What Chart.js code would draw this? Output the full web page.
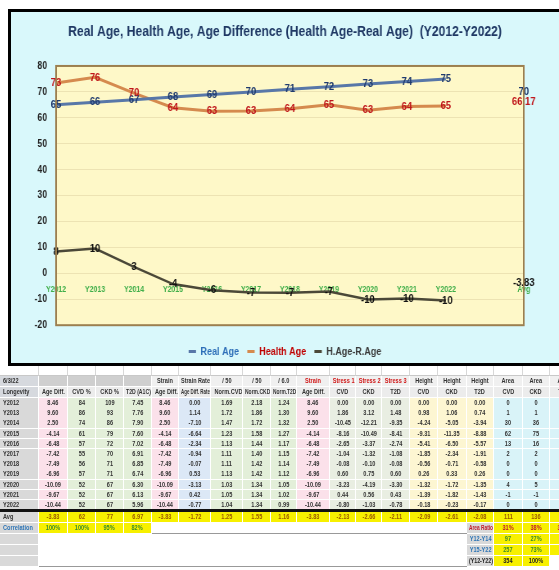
<!DOCTYPE html>
<html>
<head>
<meta charset="utf-8">
<script src="https://cdn.jsdelivr.net/npm/chart.js@4.4.1/dist/chart.umd.min.js"></script>
<style>
  body { margin:0; width:559px; height:570px; overflow:hidden; background:#fff; position:relative;
         font-family:"Liberation Sans",Arial,sans-serif; }
  #frame { position:absolute; left:8px; top:9px; width:600px; height:351px; border:3px solid #000; background:#d9f8fb; }
  #chart { position:absolute; left:0; top:0; }
  .c { position:absolute; box-sizing:border-box; border-right:1px solid #fff; border-bottom:1px solid #fff;
       font-size:7px; font-weight:bold; text-align:center; white-space:nowrap; overflow:hidden; color:#333; }
  .c span { display:inline-block; transform:scaleX(0.8); transform-origin:center; }
  .c.first span { transform-origin:left; }
</style>
</head>
<body>
<div id="frame"><canvas id="chart" width="669" height="355" style="width:548px;height:355px"></canvas></div>
<div id="sheet"></div>
<script>
// chart data
var categories = ['Y2012','Y2013','Y2014','Y2015','Y2016','Y2017','Y2018','Y2019','Y2020','Y2021','Y2022','','Avg'];
var realAge   = [65, 66, 67, 68, 69, 70, 71, 72, 73, 74, 75, null, 70];
var healthAge = [73.46, 75.6, 69.5, 63.86, 62.52, 62.58, 63.51, 65.04, 62.91, 64.33, 64.56, null, 66.17];
var ageDiff   = [8.46, 9.6, 2.5, -4.14, -6.48, -7.42, -7.49, -6.96, -10.09, -9.67, -10.44, null, -3.83];
var yMin = -20, yMax = 80, yStep = 10;

// sheet data (per year Y2012..Y2022)
var years      = categories.slice(0, 11);
var cvdPct     = [84, 86, 74, 61, 57, 55, 56, 57, 52, 52, 52];
var ckdPct     = [109, 93, 86, 79, 72, 70, 71, 71, 67, 67, 67];
var t2dA1c     = [7.45, 7.76, 7.90, 7.60, 7.02, 6.91, 6.85, 6.74, 6.30, 6.13, 5.96];
var strainRate = [0.00, 1.14, -7.10, -6.64, -2.34, -0.94, -0.07, 0.53, -3.13, 0.42, -0.77];
var normCvd    = [1.69, 1.72, 1.47, 1.23, 1.13, 1.11, 1.11, 1.13, 1.03, 1.05, 1.04];
var normCkd    = [2.18, 1.86, 1.72, 1.58, 1.44, 1.40, 1.42, 1.42, 1.34, 1.34, 1.34];
var normT2d    = [1.24, 1.30, 1.32, 1.27, 1.17, 1.15, 1.14, 1.12, 1.05, 1.02, 0.99];
var stressCvd  = [0.00, 1.86, -10.45, -8.16, -2.65, -1.04, -0.08, 0.60, -3.23, 0.44, -0.80];
var stressCkd  = [0.00, 3.12, -12.21, -10.49, -3.37, -1.32, -0.10, 0.75, -4.19, 0.56, -1.03];
var stressT2d  = [0.00, 1.48, -9.35, -8.41, -2.74, -1.08, -0.08, 0.60, -3.30, 0.43, -0.78];
var heightCvd  = [0.00, 0.98, -4.24, -9.31, -5.41, -1.85, -0.56, 0.26, -1.32, -1.39, -0.18];
var heightCkd  = [0.00, 1.06, -5.05, -11.35, -6.50, -2.34, -0.71, 0.33, -1.72, -1.82, -0.23];
var heightT2d  = [0.00, 0.74, -3.94, -8.88, -5.57, -1.91, -0.58, 0.26, -1.35, -1.43, -0.17];
var areaCvd    = [0, 1, 30, 62, 13, 2, 0, 0, 4, -1, 0];
var areaCkd    = [0, 1, 36, 75, 16, 2, 0, 0, 5, -1, 0];
var areaT2d    = [0, 1, 28, 59, 13, 2, 0, 0, 4, -1, 0];
var avgRow     = ['Avg','-3.83','62','77','6.97','-3.83','-1.72','1.25','1.55','1.16','-3.83','-2.13','-2.66','-2.11','-2.09','-2.61','-2.08','111','136','107'];
var correlation = ['100%','100%','95%','82%'];
var areaRatio  = ['31%','38%','30%'];
var areaSplit  = [['Y12-Y14','97','27%'], ['Y15-Y22','257','73%'], ['(Y12-Y22)','354','100%']];

var header1 = ['6/3/22','','','','','Strain','Strain Rate','/ 50','/ 50','/ 6.0','Strain','Stress 1','Stress 2','Stress 3','Height','Height','Height','Area','Area','Area'];
var header2 = ['Longevity','Age Diff.','CVD %','CKD %','T2D (A1C)','Age Diff.','Age Diff. Rate','Norm.CVD','Norm.CKD','Norm.T2D','Age Diff.','CVD','CKD','T2D','CVD','CKD','T2D','CVD','CKD','T2D'];

var fam = '"Liberation Sans", Arial, sans-serif';

function fmt(v, i) {
    if (i === categories.length - 1 && Math.round(v) !== v) return v.toFixed(2);
    return String(Math.round(v));
}

var plotFrame = {
    id: 'plotFrame',
    beforeDraw: function(chart) {
        var a = chart.chartArea, ctx = chart.ctx;
        ctx.save();
        ctx.fillStyle = '#fef8c8';
        ctx.fillRect(a.left, a.top, a.right - a.left, a.bottom - a.top);
        ctx.restore();
    },
    afterDraw: function(chart) {
        var a = chart.chartArea, ctx = chart.ctx;
        ctx.save();
        ctx.strokeStyle = '#9c7f4f';
        ctx.lineWidth = 2;
        ctx.strokeRect(a.left, a.top, a.right - a.left, a.bottom - a.top);
        ctx.restore();
    }
};

var pointLabels = {
    id: 'pointLabels',
    afterDatasetsDraw: function(chart) {
        var ctx = chart.ctx;
        ctx.save();
        ctx.font = 'bold 11.5px ' + fam;
        ctx.textAlign = 'center';
        ctx.textBaseline = 'middle';
        chart.data.datasets.forEach(function(ds, di) {
            var meta = chart.getDatasetMeta(di);
            ctx.fillStyle = ds.labelColor;
            meta.data.forEach(function(pt, i) {
                var v = ds.data[i];
                if (v === null) return;
                ctx.fillText(fmt(v, i), pt.x, pt.y);
            });
        });
        ctx.restore();
    }
};

new Chart(document.getElementById('chart'), {
    type: 'line',
    data: {
        labels: categories,
        datasets: [
            { label: 'Real Age', data: realAge, borderColor: '#5877a8', borderWidth: 3, labelColor: '#1f3a6e', legendText: '#2e6fb8' },
            { label: 'Health Age', data: healthAge, borderColor: '#d58a4e', borderWidth: 3, labelColor: '#c0161b', legendText: '#c00000' },
            { label: 'H.Age-R.Age', data: ageDiff, borderColor: '#4b4838', borderWidth: 2.5, labelColor: '#111111', legendText: '#3a3a3a' }
        ]
    },
    options: {
        responsive: false,
        devicePixelRatio: 1,
        animation: false,
        spanGaps: false,
        elements: { point: { radius: 0 }, line: { tension: 0 } },
        scales: {
            x: {
                type: 'category',
                position: { y: 0 },
                offset: false,
                grid: { display: false, drawTicks: false },
                border: { display: false },
                ticks: { color: '#3fae49', font: { family: fam, size: 8.5, weight: 'bold' }, padding: 11,
                         autoSkip: false, maxRotation: 0 }
            },
            y: {
                min: yMin, max: yMax,
                grid: { color: '#ede3b3', drawTicks: false },
                border: { display: false },
                ticks: { stepSize: yStep, color: '#222', font: { family: fam, size: 10.5, weight: 'bold' }, padding: 11 },
                afterFit: function(s) { s.width = 55; }
            },
            yRight: {
                position: 'right',
                min: yMin, max: yMax,
                grid: { display: false, drawTicks: false },
                border: { display: false },
                ticks: { display: false },
                afterFit: function(s) { s.width = 43; }
            }
        },
        plugins: {
            title: {
                display: true,
                text: 'Real Age, Health Age, Age Difference (Health Age-Real Age)  (Y2012-Y2022)',
                color: '#1f3864',
                font: { family: fam, size: 14.8, weight: 'bold' },
                padding: { top: 11.1, bottom: 25.1 }
            },
            legend: {
                position: 'bottom',
                title: { display: true, text: '', padding: 0, font: { size: 9 } },
                labels: {
                    usePointStyle: true,
                    pointStyle: 'line',
                    pointStyleWidth: 9,
                    padding: 10,
                    font: { family: fam, size: 11, weight: 'bold' },
                    generateLabels: function(chart) {
                        return chart.data.datasets.map(function(ds, i) {
                            return { text: ds.label, fillStyle: ds.borderColor, strokeStyle: ds.borderColor,
                                     lineWidth: 3, pointStyle: 'line', fontColor: ds.legendText, datasetIndex: i };
                        });
                    }
                }
            },
            tooltip: { enabled: false }
        }
    },
    plugins: [plotFrame, pointLabels]
});

// spreadsheet below the chart
var colEdges = [0,39,68,96,124,152,179,211,243,271,297,330,356,382,410,438,467,494,523,550,578];
var colFill = ['#d9d9d9','#fbe1ea','#e3efd9','#e3efd9','#e3efd9','#fbe1ea','#dce8f6','#e3efd9','#e3efd9','#e3efd9',
               '#fbe1ea','#e9eee2','#e9eee2','#e9eee2','#fdf6d2','#fdf6d2','#fdf6d2','#d9f3f8','#d9f3f8','#d9f3f8'];
var sheet = document.getElementById('sheet');

function cell(col, y, h, text, bg, color, extra) {
    var d = document.createElement('div');
    var w = colEdges[col + 1] - colEdges[col];
    d.className = 'c' + (col === 0 ? ' first' : '');
    d.style.left = colEdges[col] + 'px';
    d.style.width = w + 'px';
    d.style.top = y + 'px';
    d.style.height = h + 'px';
    d.style.lineHeight = (h - 1) + 'px';
    d.style.background = bg;
    if (color) d.style.color = color;
    if (col === 0) { d.style.textAlign = 'left'; d.style.paddingLeft = '3px'; }
    if (extra) for (var k in extra) d.style[k] = extra[k];
    var s = document.createElement('span');
    s.textContent = text;
    d.appendChild(s);
    sheet.appendChild(d);
    // squeeze long labels so they fit the narrow spreadsheet columns
    var room = w - (col === 0 ? 4 : 3);
    var natural = s.offsetWidth;
    if (natural * 0.8 > room) {
        d.style.textAlign = 'left';
        d.style.paddingLeft = (col === 0 ? 3 : 1.5) + 'px';
        s.style.transformOrigin = 'left';
        s.style.transform = 'scaleX(' + (room / natural).toFixed(3) + ')';
    }
}

// blank row
for (var c = 0; c < 20; c++) cell(c, 366, 10, '', '#fff', null, { borderRight: '1px solid #d8d8d8', borderBottom: '1px solid #c8c8c8' });
// header rows
for (var c = 0; c < 20; c++) {
    var hc = (c >= 10 && c <= 13) ? '#d01818' : '#333';
    cell(c, 376, 11, header1[c], c === 0 ? '#d6d9de' : (c <= 4 ? '#cfcfcf' : '#f0f0f0'), hc);
    cell(c, 387, 11, header2[c], c === 0 ? '#d6d9de' : '#ececec', '#333');
}
// year rows
var rowH = 10.2;
for (var r = 0; r < years.length; r++) {
    var vals = [years[r], ageDiff[r].toFixed(2), cvdPct[r], ckdPct[r], t2dA1c[r].toFixed(2), ageDiff[r].toFixed(2),
                strainRate[r].toFixed(2), normCvd[r].toFixed(2), normCkd[r].toFixed(2), normT2d[r].toFixed(2),
                ageDiff[r].toFixed(2), stressCvd[r].toFixed(2), stressCkd[r].toFixed(2), stressT2d[r].toFixed(2),
                heightCvd[r].toFixed(2), heightCkd[r].toFixed(2), heightT2d[r].toFixed(2), areaCvd[r], areaCkd[r], areaT2d[r]];
    for (var c = 0; c < 20; c++) cell(c, 398 + r * rowH, rowH + 0.5, String(vals[c]), colFill[c], '#333');
}
// thick separator
var sep = document.createElement('div');
sep.style.cssText = 'position:absolute;left:0;top:509px;width:578px;height:3px;background:#111;';
sheet.appendChild(sep);
// avg row
for (var c = 0; c < 20; c++) cell(c, 512, 11, avgRow[c], c === 0 ? '#d9d9d9' : '#f7f000', c === 0 ? '#333' : '#9a5a00');
// correlation / area ratio row
cell(0, 523, 11, 'Correlation', '#d9d9d9', '#2e75b6');
for (var c = 1; c <= 4; c++) cell(c, 523, 11, correlation[c - 1], '#f7f000', '#3a8a2a');
for (var c = 5; c <= 15; c++) cell(c, 523, 11, '', '#fff', null, { borderRight: 'none', borderBottom: '1px solid #999' });
cell(16, 523, 11, 'Area Ratio', '#d9d9d9', '#c0182a');
for (var c = 17; c <= 19; c++) cell(c, 523, 11, areaRatio[c - 17], '#f7f000', '#c0182a');
// area split rows
var splitColors = [['#2e75b6', '#3a8a2a'], ['#2e75b6', '#3a8a2a'], ['#222', '#222']];
for (var r = 0; r < 3; r++) {
    var rowY = 534 + r * 11;
    cell(0, rowY, 11, '', '#d9d9d9', null);
    for (var c = 1; c <= 15; c++) cell(c, rowY, 11, '', '#fff', null, { borderRight: 'none', borderBottom: r === 2 ? '1px solid #999' : 'none' });
    cell(16, rowY, 11, areaSplit[r][0], '#d9d9d9', splitColors[r][0]);
    cell(17, rowY, 11, areaSplit[r][1], '#f7f000', splitColors[r][1]);
    cell(18, rowY, 11, areaSplit[r][2], '#f7f000', splitColors[r][1]);
    cell(19, rowY, 11, '', r < 2 ? '#f7f000' : '#fff', null);
}
</script>
</body>
</html>
